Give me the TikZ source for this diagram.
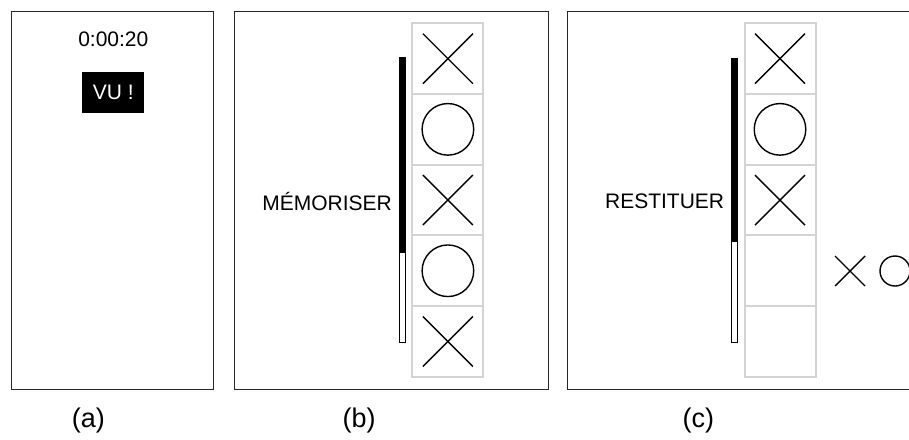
\documentclass[tikz,border=0pt]{standalone}
\usepackage{fontspec}
\setmainfont{Liberation Sans}
\usetikzlibrary{positioning}

\begin{document}
\begin{tikzpicture}[x=1pt,y=-1pt]

\tikzset{panel/.style = {draw=black!85, line width=1pt, inner sep=0pt, anchor=north west}}
\tikzset{cell/.style = {draw=black!17, line width=2pt, minimum width=71pt, minimum height=70.7pt, inner sep=0pt}}
\tikzset{stroke/.style = {line width=1.4pt}}
\tikzset{bar/.style = {draw, line width=0.9pt, minimum width=6pt, inner sep=0pt, anchor=north}}
\tikzset{word/.style = {font=\fontsize{21}{24}\selectfont, inner sep=0pt}}
\tikzset{caption/.style = {font=\fontsize{27}{30}\selectfont, inner sep=0pt}}
\useasboundingbox (0,0) rectangle (909,439);
\clip (0,0) rectangle (909,439);
% panels
\node[panel, minimum width=202pt, minimum height=378pt] (pa) at (10.7,10.7) {};
\node[panel, minimum width=314pt, minimum height=378pt] (pb) at (234,11) {};
\node[panel, minimum width=420pt, minimum height=378pt] (pc) at (567.3,11) {};

% panel a
\node[word] (time) at (113.3,39) {0:00:20};
\node[fill=black, text=white, minimum width=62pt, minimum height=41pt, inner sep=0pt,
      font=\fontsize{21}{24}\selectfont] (vu) at (113.2,92.2) {VU !};

% cells
\foreach \i/\y in {1/58.65, 2/129.35, 3/200.05, 4/270.75, 5/341.45} {
  \node[cell] (b\i) at (447.9,\y) {};
  \node[cell] (c\i) at (780,\y) {};
}

% marks
\foreach \n in {b1,b3,b5,c1,c3} {
  \draw[stroke] ([shift={(-25,-25)}]\n.center) -- ([shift={(25,25)}]\n.center);
  \draw[stroke] ([shift={(-25,25)}]\n.center) -- ([shift={(25,-25)}]\n.center);
}
\foreach \n in {b2,b4,c2} {
  \draw[stroke] (\n.center) circle (25.8);
}

% bars
\node[bar, minimum height=285pt] (barb) at (402.3,57.3) {};
\node[bar, fill=black, minimum height=194.4pt] (fillb) at (402.3,57.3) {};
\node[bar, minimum height=284.6pt] (barc) at (734.3,57.7) {};
\node[bar, fill=black, minimum height=183pt] (fillc) at (734.3,57.7) {};

% labels
\node[word, anchor=east] (mem) at (392,201.7) {MÉMORISER};
\node[word, anchor=east] (rest) at (724.3,201.7) {RESTITUER};

% choices
\coordinate (choix) at (850,271);
\draw[stroke] ([shift={(-15,-15)}]choix) -- ([shift={(15,15)}]choix);
\draw[stroke] ([shift={(-15,15)}]choix) -- ([shift={(15,-15)}]choix);
\draw[stroke] ([shift={(45,0)}]choix) circle (15);

% captions
\node[caption] (ca) at (88.3,421) {(a)};
\node[caption] (cb) at (359.2,421) {(b)};
\node[caption] (cc) at (698.3,421) {(c)};

\end{tikzpicture}
\end{document}
